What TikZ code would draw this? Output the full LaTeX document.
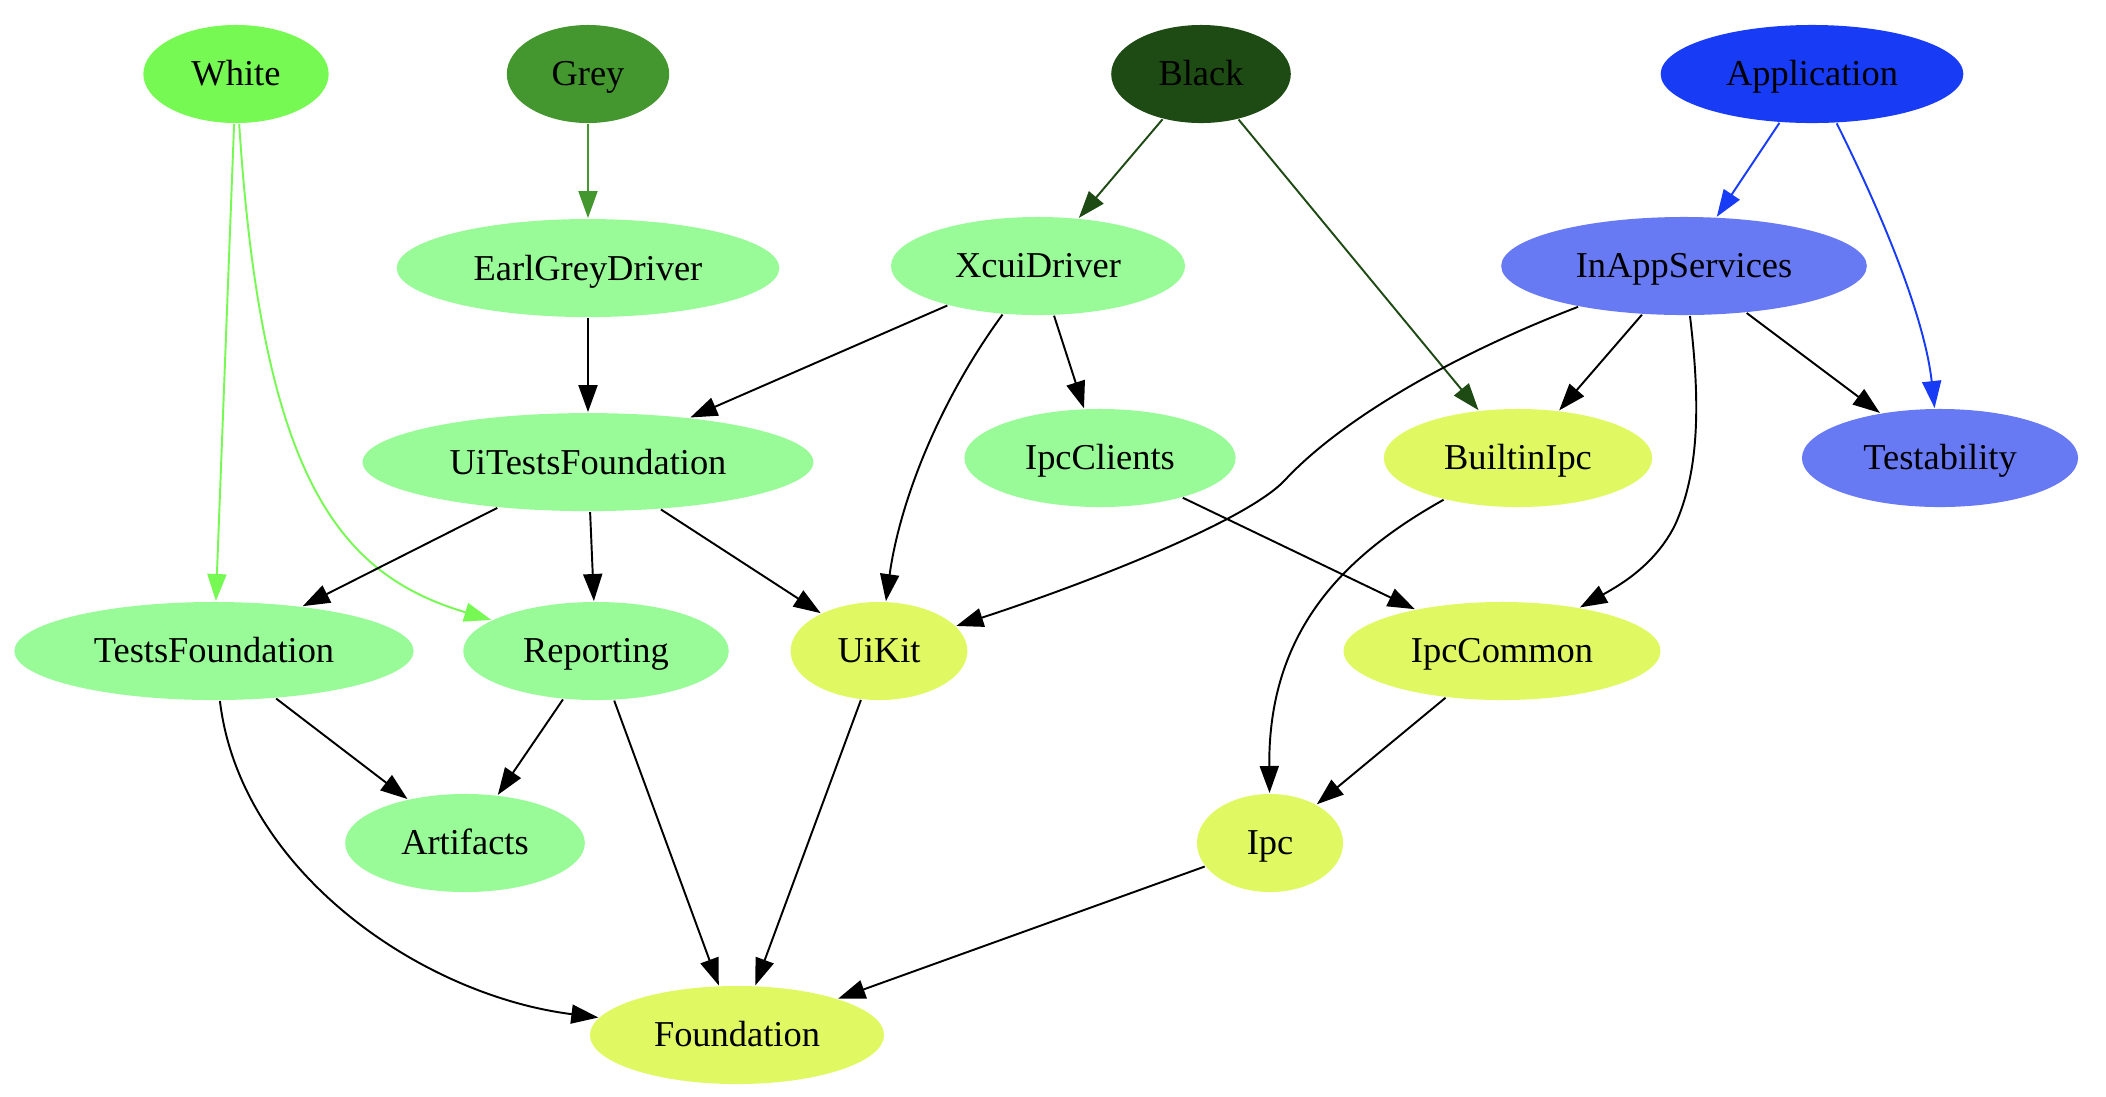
\documentclass[tikz,border=0pt]{standalone}
\usepackage{fontspec}
\setmainfont{Liberation Serif}
\usetikzlibrary{positioning,arrows.meta,shapes.geometric}
\definecolor{whitegreen}{HTML}{76F953}
\definecolor{greygreen}{HTML}{44962F}
\definecolor{blackgreen}{HTML}{1E4A14}
\definecolor{appblue}{HTML}{183BF5}
\definecolor{svcblue}{HTML}{6879F4}
\definecolor{palegreen}{HTML}{98FB98}
\definecolor{coreyellow}{HTML}{E0F962}

\begin{document}
\begin{tikzpicture}[x=0.01cm,y=-0.01cm,line width=0.55pt,
  >={Triangle[length=0.27cm,width=0.19cm]},
  font=\fontsize{10.36}{12}\selectfont,
  pkg/.style={ellipse,inner xsep=0.21cm,inner ysep=2pt,text height=9pt,text depth=2.2pt,
    minimum width=1.46cm,minimum height=0.98cm},
  tool/.style={pkg,fill=palegreen},
  core/.style={pkg,fill=coreyellow},
  svc/.style={pkg,fill=svcblue}]
\useasboundingbox (0,0) rectangle (2106,1096);
% top row
\node[pkg,fill=whitegreen] (white) at (236,74) {White};
\node[pkg,fill=greygreen] (grey) at (588,74) {Grey};
\node[pkg,fill=blackgreen] (black) at (1201,74) {Black};
\node[pkg,fill=appblue] (app) at (1812,74) {Application};
% drivers
\node[tool,below=0.94cm of grey] (earl) {EarlGreyDriver};
\node[tool] (xcui) at (1038,266) {XcuiDriver};
\node[svc] (inapp) at (1684,266) {InAppServices};
\node[tool,below=0.94cm of earl] (uitf) {UiTestsFoundation};
\node[tool] (ipccl) at (1100,458) {IpcClients};
\node[core] (builtin) at (1518,458) {BuiltinIpc};
\node[svc] (testab) at (1940,458) {Testability};
\node[tool] (testsf) at (214,651) {TestsFoundation};
\node[tool] (report) at (596,651) {Reporting};
\node[core] (uikit) at (879,651) {UiKit};
\node[core] (ipccom) at (1502,651) {IpcCommon};
\node[tool] (artif) at (465,843) {Artifacts};
\node[core] (ipc) at (1270,843) {Ipc};
\node[core] (found) at (737,1035) {Foundation};
% coloured edges
\draw[->,whitegreen] (white) -- (testsf);
\draw[->,whitegreen] (white) .. controls (262,480) and (340,575) .. (report);
\draw[->,greygreen] (grey) -- (earl);
\draw[->,blackgreen] (black) -- (xcui);
\draw[->,blackgreen] (black) -- (builtin);
\draw[->,appblue] (app) -- (inapp);
\draw[->,appblue] (app) .. controls (1885,220) and (1925,320) .. (testab);
% dependencies
\draw[->] (earl) -- (uitf);
\draw[->] (xcui) -- (uitf);
\draw[->] (xcui) .. controls (940,400) and (900,500) .. (uikit);
\draw[->] (xcui) -- (ipccl);
\draw[->] (inapp) .. controls (1440,360) and (1336,425) .. (1285,480) .. controls (1244,524) and (1067,590) .. (uikit);
\draw[->] (inapp) -- (builtin);
\draw[->] (inapp) .. controls (1700,400) and (1700,470) .. (1675,525) .. controls (1655,565) and (1620,585) .. (ipccom);
\draw[->] (inapp) -- (testab);
\draw[->] (uitf) -- (testsf);
\draw[->] (uitf) -- (report);
\draw[->] (uitf) -- (uikit);
\draw[->] (ipccl) -- (ipccom);
\draw[->] (builtin) .. controls (1345,555) and (1268,630) .. (ipc);
\draw[->] (testsf) -- (artif);
\draw[->] (testsf) .. controls (240,870) and (420,995) .. (found);
\draw[->] (report) -- (artif);
\draw[->] (report) -- (found);
\draw[->] (uikit) -- (found);
\draw[->] (ipccom) -- (ipc);
\draw[->] (ipc) -- (found);
\end{tikzpicture}
\end{document}
